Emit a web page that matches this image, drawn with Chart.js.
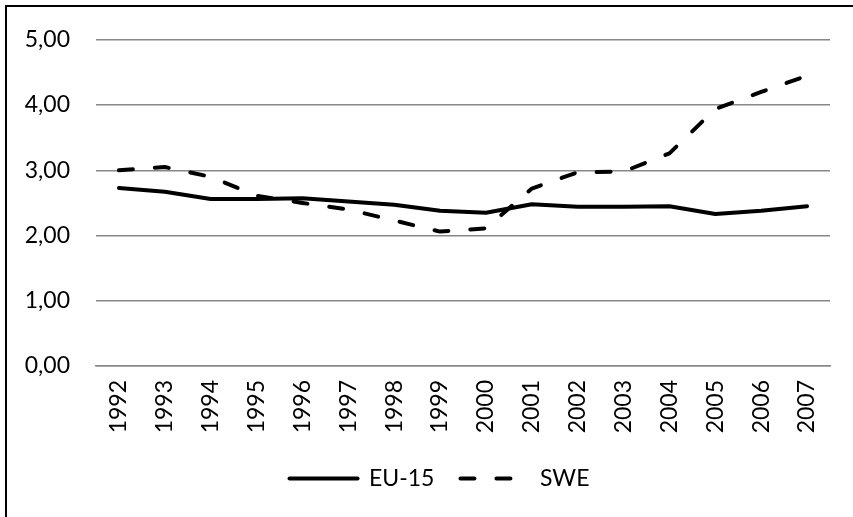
<!DOCTYPE html>
<html>
<head>
<meta charset="utf-8">
<script src="https://cdn.jsdelivr.net/npm/chart.js@4"></script>
<style>
  html, body { margin: 0; padding: 0; background: #fff; }
  #wrap { position: relative; width: 853px; height: 517px; }
  #frame {
    position: absolute; left: 5px; top: 5px; right: 0; bottom: 0;
    border-left: 2px solid #000; border-top: 2px solid #000;
    pointer-events: none;
  }
</style>
</head>
<body>
<div id="wrap">
  <canvas id="chart" width="853" height="517"></canvas>
  <div id="frame"></div>
</div>
<script>
// --- Данные ---
const years = ['1992', '1993', '1994', '1995', '1996', '1997', '1998', '1999',
               '2000', '2001', '2002', '2003', '2004', '2005', '2006', '2007'];
const eu15 = [2.73, 2.67, 2.56, 2.56, 2.57, 2.52, 2.47, 2.38, 2.35, 2.48, 2.44, 2.44, 2.45, 2.33, 2.38, 2.45];
const swe  = [3.00, 3.05, 2.90, 2.61, 2.50, 2.40, 2.23, 2.06, 2.11, 2.72, 2.97, 2.98, 3.26, 3.94, 4.20, 4.45];
const yTicks = [0, 1, 2, 3, 4, 5];

const FONT = 'Lato, "Open Sans", sans-serif';
const formatTick = (v) => v.toFixed(2).replace('.', ',');

// легенда: переносим штрих линии в значок
const legendLabels = (chart) =>
    Chart.defaults.plugins.legend.labels.generateLabels(chart).map(item => ({
        ...item,
        lineDash: chart.data.datasets[item.datasetIndex].borderDash || [],
        lineCap: 'round',
        lineWidth: 4
    }));

// сдвиг легенды, как в оригинале
const legendShift = {
    id: 'legendShift',
    afterLayout(chart) {
        chart.legend.left += 49;
        chart.legend.top -= 2;
    }
};

new Chart(document.getElementById('chart'), {
    type: 'line',
    data: {
        labels: years,
        datasets: [
            {
                label: 'EU-15',
                data: eu15,
                borderColor: '#000',
                backgroundColor: '#000',
                borderWidth: 4,
                borderCapStyle: 'round',
                borderJoinStyle: 'round',
                pointRadius: 0,
                tension: 0
            },
            {
                label: 'SWE',
                data: swe,
                borderColor: '#000',
                backgroundColor: '#000',
                borderWidth: 4,
                borderDash: [14, 22],
                borderCapStyle: 'round',
                borderJoinStyle: 'round',
                pointRadius: 0,
                tension: 0
            }
        ]
    },
    plugins: [legendShift],
    options: {
        responsive: false,
        animation: false,
        layout: { padding: { top: 28, right: 23, left: 0, bottom: 15 } },
        plugins: {
            tooltip: { enabled: false },
            legend: {
                position: 'bottom',
                labels: {
                    usePointStyle: true,
                    pointStyle: 'line',
                    pointStyleWidth: 68,
                    padding: 26,
                    color: '#000',
                    font: { family: FONT, size: 23 },
                    generateLabels: legendLabels
                }
            }
        },
        scales: {
            x: {
                offset: true,
                grid: { display: false, drawTicks: false },
                border: { display: true, color: '#888', width: 1.5 },
                ticks: {
                    color: '#000',
                    font: { family: FONT, size: 23 },
                    maxRotation: 90,
                    minRotation: 90,
                    padding: 14,
                    autoSkip: false
                },
                afterFit: (scale) => { scale.height = 77; }
            },
            y: {
                min: 0,
                max: 5,
                afterBuildTicks: (scale) => { scale.ticks = yTicks.map(v => ({ value: v })); },
                grid: { color: '#888', lineWidth: 1.5, drawTicks: false },
                border: { display: false },
                ticks: {
                    color: '#000',
                    font: { family: FONT, size: 23 },
                    padding: 26,
                    callback: formatTick
                },
                afterFit: (scale) => { scale.width = 96; }
            }
        }
    }
});
</script>
</body>
</html>
